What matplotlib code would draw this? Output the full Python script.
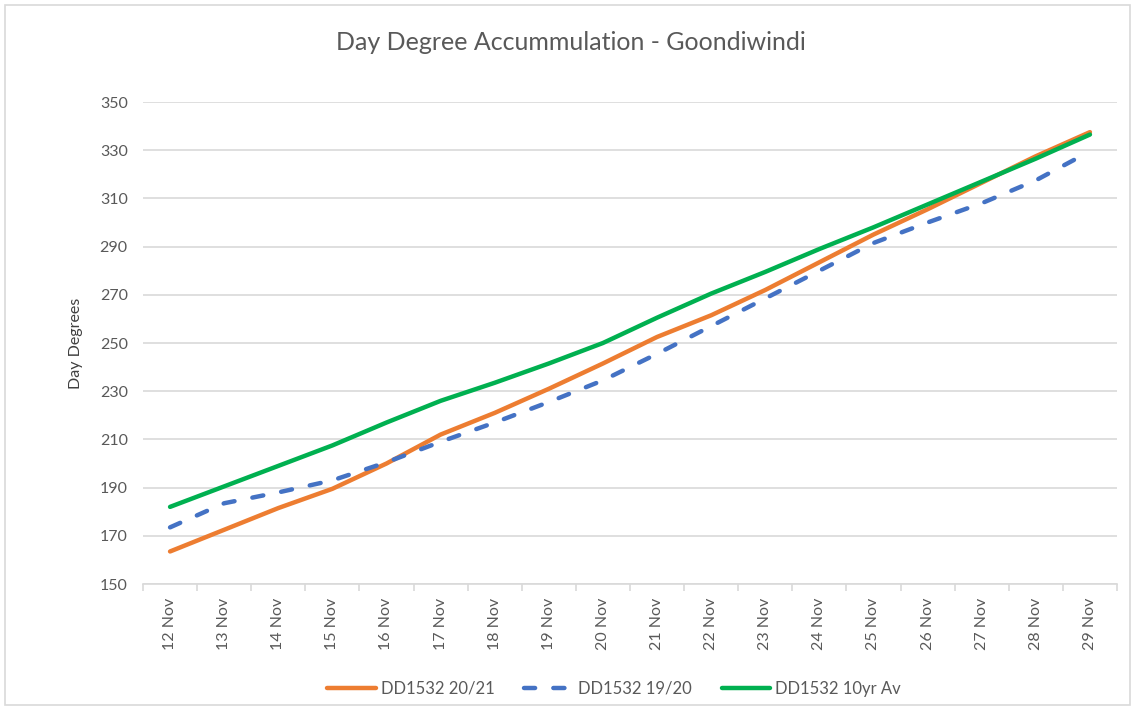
import numpy as np
import matplotlib.pyplot as plt
from matplotlib.patches import Rectangle

plt.rcParams['font.family'] = ['Lato', 'DejaVu Sans']

# data
days = ['12 Nov', '13 Nov', '14 Nov', '15 Nov', '16 Nov', '17 Nov', '18 Nov',
        '19 Nov', '20 Nov', '21 Nov', '22 Nov', '23 Nov', '24 Nov', '25 Nov',
        '26 Nov', '27 Nov', '28 Nov', '29 Nov']
dd_2021 = [163.5, 172.5, 181.5, 189.5, 200, 212, 221, 231, 241.5, 252.5,
           261.5, 272, 283.5, 295, 305.5, 316.5, 327.5, 337.5]
dd_1920 = [173.5, 183.5, 188, 193, 200.5, 209, 217, 225.5, 234.5, 245.5,
           257, 268.5, 280, 291.5, 300, 308, 317.5, 329.5]
dd_10yr = [182, 190.5, 199, 207.5, 217, 226, 233.5, 241.5, 250, 260.5,
           270.5, 279.5, 289, 298, 307.5, 317, 326.5, 336.5]
yticks = np.arange(150, 351, 20)

txt = '#595959'
grid_c = '#D9D9D9'

fig = plt.figure(figsize=(11.34, 7.09), dpi=100)
ax = fig.add_axes([143/1134, 1-584/709, (1117-143)/1134, (584-102)/709])

x = np.arange(len(days))
ax.plot(x, dd_2021, color='#ED7D31', lw=3.2, solid_capstyle='round',
        label='DD1532 20/21')
ax.plot(x, dd_1920, color='#4472C4', lw=3.2, dashes=(2.5, 4.1),
        dash_capstyle='round', label='DD1532 19/20')
ax.plot(x, dd_10yr, color='#00B050', lw=3.2, solid_capstyle='round',
        label='DD1532 10yr Av')

ax.set_xlim(-0.5, len(days) - 0.5)
ax.set_ylim(150, 350)
ax.set_yticks(yticks)
ax.yaxis.grid(True, color=grid_c, lw=1.2)
ax.set_axisbelow(True)
for s in ['left', 'right', 'top']:
    ax.spines[s].set_visible(False)
ax.spines['bottom'].set_color(grid_c)
ax.spines['bottom'].set_linewidth(1.2)

ax.set_xticks(x)
ax.set_xticklabels(days, rotation=90)
ax.set_xticks(np.arange(-0.5, len(days)), minor=True)
ax.tick_params(axis='x', which='major', length=0, pad=10, labelsize=11.5, labelcolor=txt)
ax.tick_params(axis='x', which='minor', length=5, color=grid_c, width=1.2)
ax.tick_params(axis='y', length=0, pad=11, labelsize=11.5, labelcolor=txt)

ax.set_ylabel('Day Degrees', fontsize=11.5, color='#404040', labelpad=12)
fig.text(571/1134, 1-42/709, 'Day Degree Accummulation - Goondiwindi',
         ha='center', va='center', fontsize=18, color=txt)

leg = fig.legend(loc='center', bbox_to_anchor=(614/1134, 1-689/709), ncol=3,
                 frameon=False, fontsize=12, handlelength=2.9,
                 columnspacing=1.8, handletextpad=0.3)
for t in leg.get_texts():
    t.set_color(txt)

# chart border
fig.patches.append(Rectangle((5/1134, 4/709), 1125/1134, 700/709,
                             transform=fig.transFigure, fill=False,
                             edgecolor=grid_c, lw=1.2))

fig.savefig('out.png', dpi=100)
